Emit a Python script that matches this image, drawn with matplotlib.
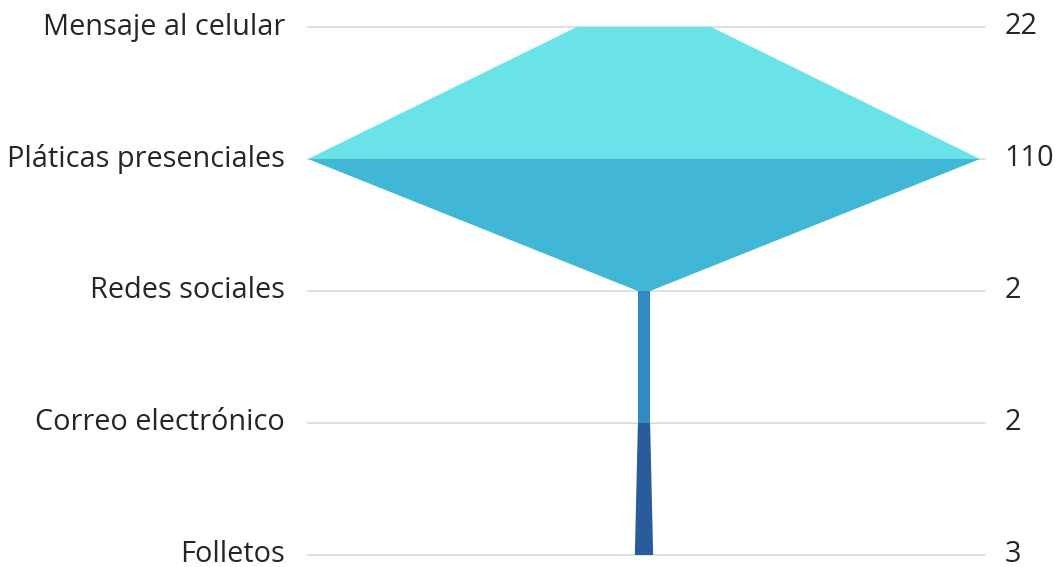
import matplotlib
matplotlib.use("Agg")
import matplotlib.pyplot as plt
import numpy as np

categories = ["Mensaje al celular", "Pláticas presenciales", "Redes sociales", "Correo electrónico", "Folletos"]
values = [22, 110, 2, 2, 3]
colors = ["#6AE3E8", "#42B6D5", "#2E8CC3", "#2A5B9A"]

plt.rcParams['font.family'] = ['Open Sans', 'DejaVu Sans']

W, H = 1055, 567
fig = plt.figure(figsize=(W / 100, H / 100), dpi=100)
ax = fig.add_axes([308 / W, 12 / H, (980 - 308) / W, 528 / H])
ax.set_xlim(-55, 55)
ax.set_ylim(len(categories) - 1, 0)
ax.axis("off")

ys = np.arange(len(categories))
for y in ys:
    ax.plot([-0.0, 1.008], [1 - y / (len(categories) - 1)] * 2, transform=ax.transAxes,
            color="#D9D9D9", lw=1.2, clip_on=False, zorder=0)

for i in range(len(categories) - 1):
    y0, y1 = ys[i], ys[i + 1]
    w0, w1 = values[i] / 2, values[i + 1] / 2
    ax.fill([-w0, w0, w1, -w1], [y0, y0, y1, y1], color=colors[i], lw=0, zorder=2)

for y, c, v in zip(ys, categories, values):
    ax.text(-0.034, 1 - y / (len(categories) - 1), c, transform=ax.transAxes,
            ha="right", va="center", fontsize=20.8, color="#262626")
    ax.text(1.037, 1 - y / (len(categories) - 1), str(v), transform=ax.transAxes,
            ha="left", va="center", fontsize=20.8, color="#262626")

fig.savefig("out.png", dpi=100)
